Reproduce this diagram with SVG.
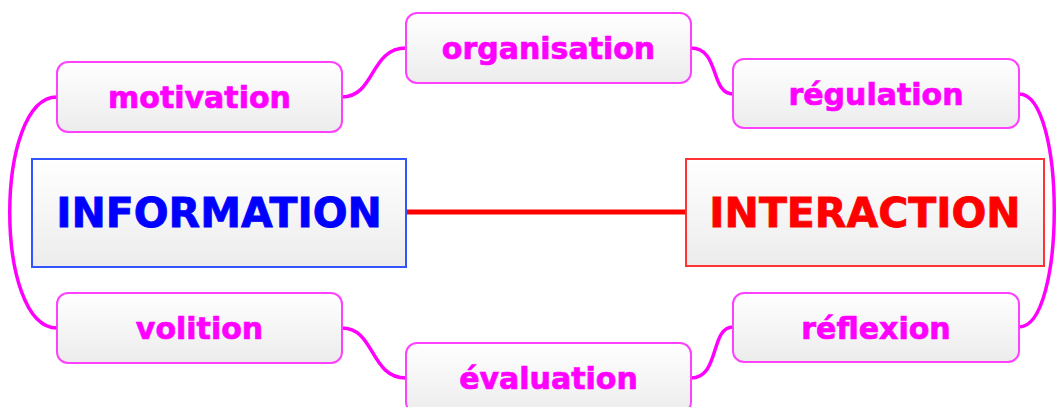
<svg xmlns="http://www.w3.org/2000/svg" width="1056" height="407" viewBox="0 0 1056 407">
<defs>
<linearGradient id="g" x1="0" y1="0" x2="0" y2="1">
<stop offset="0" stop-color="#ffffff"/>
<stop offset="1" stop-color="#ececec"/>
</linearGradient>
<style>
.n rect{fill:url(#g);stroke:#ff40ff;stroke-width:2}
.n text{font-family:"DejaVu Sans",Verdana,sans-serif;font-weight:bold;font-size:30px;fill:#ff00ff;stroke:#ff00ff;stroke-width:0.7;text-anchor:middle}
.m rect{fill:url(#g);stroke-width:2}
.m text{font-family:"DejaVu Sans",Verdana,sans-serif;font-weight:bold;font-size:41px;stroke-width:0.8;text-anchor:middle}
.c path{fill:none;stroke:#ff00ff;stroke-width:3.5}
</style>
</defs>
<rect width="1056" height="407" fill="#ffffff"/>
<g class="c" id="connectors">
<path d="M342,97 C375,97 370,48 406,48"/>
<path d="M691,48 C720,48 710,94 733,94"/>
<path d="M1019,94 C1066,94 1066,327 1019,327"/>
<path d="M57,97 C-6,97 -6,328 57,328"/>
<path d="M342,328 C375,328 370,378 406,378"/>
<path d="M691,378 C720,378 710,327 733,327"/>
<path d="M406,212 L686,212" style="stroke:#ff0000;stroke-width:5"/>
</g>
<g class="m" id="information"><rect x="32" y="159" width="374" height="108" style="stroke:#3355ff"/><text x="219" y="227" fill="#0000ff" stroke="#0000ff">INFORMATION</text></g>
<g class="m" id="interaction"><rect x="686" y="159" width="358" height="107" style="stroke:#ff3333"/><text x="865" y="227" fill="#ff0000" stroke="#ff0000">INTERACTION</text></g>
<g class="n" id="motivation"><rect x="57" y="62" width="285" height="70" rx="11"/><text x="199.5" y="108">motivation</text></g>
<g class="n" id="organisation"><rect x="406" y="13" width="285" height="70" rx="11"/><text x="548.5" y="59">organisation</text></g>
<g class="n" id="regulation"><rect x="733" y="59" width="286" height="69" rx="11"/><text x="876" y="105">régulation</text></g>
<g class="n" id="volition"><rect x="57" y="293" width="285" height="70" rx="11"/><text x="199.5" y="339">volition</text></g>
<g class="n" id="evaluation"><rect x="406" y="343" width="285" height="70" rx="11"/><text x="548.5" y="389">évaluation</text></g>
<g class="n" id="reflexion"><rect x="733" y="293" width="286" height="69" rx="11"/><text x="876" y="339">réflexion</text></g>
</svg>
